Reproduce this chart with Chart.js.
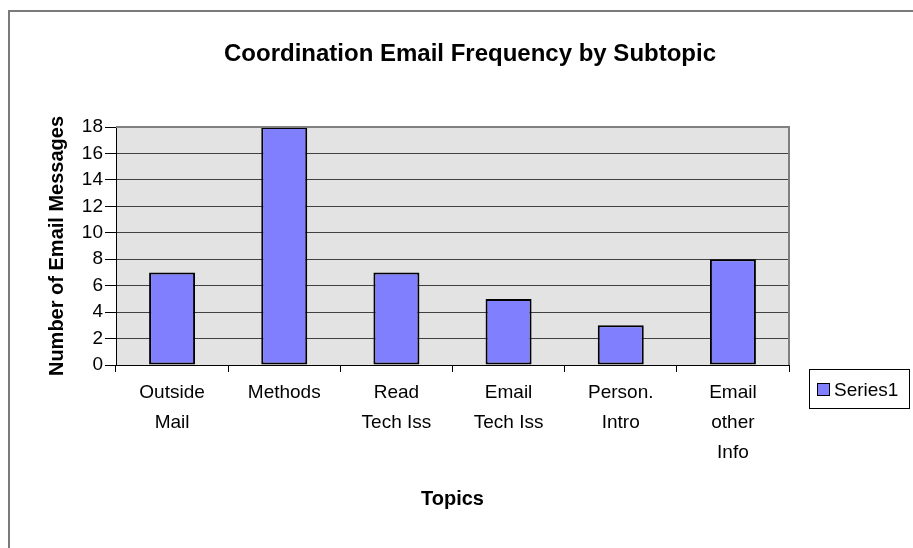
<!DOCTYPE html>
<html>
<head>
<meta charset="utf-8">
<script src="https://cdn.jsdelivr.net/npm/chart.js"></script>
<style>
  html, body { margin: 0; padding: 0; background: #fff; overflow: hidden; }
  #wrap { width: 913px; height: 548px; position: relative; }
</style>
</head>
<body>
<div id="wrap"><canvas id="emailChart"></canvas></div>
<script>
const chartTitle = 'Coordination Email Frequency by Subtopic';
const topicLabels = [
    ['Outside', 'Mail'],
    ['Methods'],
    ['Read', 'Tech Iss'],
    ['Email', 'Tech Iss'],
    ['Person.', 'Intro'],
    ['Email', 'other', 'Info']
];
const seriesName = 'Series1';
const emailCounts = [7, 18, 7, 5, 3, 8];
const yTicks = [0, 2, 4, 6, 8, 10, 12, 14, 16, 18];

const FONT = "'Liberation Sans', Arial, sans-serif";

// frame, plot background, title and legend in the old Excel look
const excelLook = {
    id: 'excelLook',
    beforeDraw(chart) {
        const c = chart.ctx;
        const a = chart.chartArea;
        c.save();
        c.fillStyle = '#fff';
        c.fillRect(0, 0, chart.width, chart.height);
        c.strokeStyle = '#7a7a7a';
        c.lineWidth = 2;
        c.strokeRect(9, 11, chart.width + 20, chart.height + 20);
        c.fillStyle = '#e3e3e3';
        c.fillRect(a.left, a.top, a.right - a.left, a.bottom - a.top);
        c.restore();
    },
    afterDraw(chart) {
        const c = chart.ctx;
        const a = chart.chartArea;
        c.save();
        // plot area border (top / right)
        c.strokeStyle = '#808080';
        c.lineWidth = 2;
        c.beginPath();
        c.moveTo(a.left, a.top);
        c.lineTo(a.right, a.top);
        c.lineTo(a.right, a.bottom);
        c.stroke();

        // title
        c.fillStyle = '#000';
        c.font = 'bold 24px ' + FONT;
        c.textAlign = 'center';
        c.textBaseline = 'middle';
        c.fillText(chartTitle, 470, 54);

        // legend
        const ds = chart.data.datasets[0];
        c.fillStyle = '#fff';
        c.fillRect(809, 369, 101, 40);
        c.strokeStyle = '#000';
        c.lineWidth = 1;
        c.strokeRect(809.5, 369.5, 100, 39);
        c.fillStyle = ds.backgroundColor;
        c.fillRect(817, 383, 12, 12);
        c.strokeRect(817.5, 383.5, 12, 12);
        c.fillStyle = '#000';
        c.font = '19px ' + FONT;
        c.textAlign = 'left';
        c.textBaseline = 'alphabetic';
        c.fillText(ds.label, 834, 396);
        c.restore();
    }
};

const ctx = document.getElementById('emailChart').getContext('2d');
const emailChart = new Chart(ctx, {
    type: 'bar',
    data: {
        labels: topicLabels,
        datasets: [{
            label: seriesName,
            data: emailCounts,
            backgroundColor: '#8080ff',
            borderColor: '#000',
            borderWidth: 2,
            borderSkipped: false,
            categoryPercentage: 1.0,
            barPercentage: 0.41
        }]
    },
    options: {
        responsive: true,
        maintainAspectRatio: false,
        animation: false,
        layout: {
            padding: { left: 40, right: 124, top: 127, bottom: 23 }
        },
        scales: {
            y: {
                min: 0,
                max: 18,
                afterFit: function (scale) { scale.width = 76; },
                afterBuildTicks: function (scale) {
                    scale.ticks = yTicks.map(v => ({ value: v }));
                },
                ticks: {
                    color: '#000',
                    padding: 2,
                    font: { family: FONT, size: 19 }
                },
                grid: {
                    color: '#404040',
                    lineWidth: 1,
                    tickLength: 11,
                    tickColor: '#000'
                },
                border: { color: '#000', width: 1 },
                title: {
                    display: true,
                    text: 'Number of Email Messages',
                    color: '#000',
                    padding: { top: 5, bottom: 0 },
                    font: { family: FONT, size: 20, weight: 'bold' }
                }
            },
            x: {
                afterFit: function (scale) { scale.height = 160; },
                ticks: {
                    color: '#000',
                    padding: 6,
                    maxRotation: 0,
                    autoSkip: false,
                    font: { family: FONT, size: 19, lineHeight: 1.58 }
                },
                grid: {
                    offset: true,
                    drawOnChartArea: false,
                    tickLength: 7,
                    color: '#000'
                },
                border: { color: '#000', width: 1 },
                title: {
                    display: true,
                    text: 'Topics',
                    color: '#000',
                    padding: { top: 0, bottom: 14 },
                    font: { family: FONT, size: 20, weight: 'bold' }
                }
            }
        },
        plugins: {
            legend: { display: false },
            title: { display: false },
            tooltip: { enabled: false }
        }
    },
    plugins: [excelLook]
});
</script>
</body>
</html>
